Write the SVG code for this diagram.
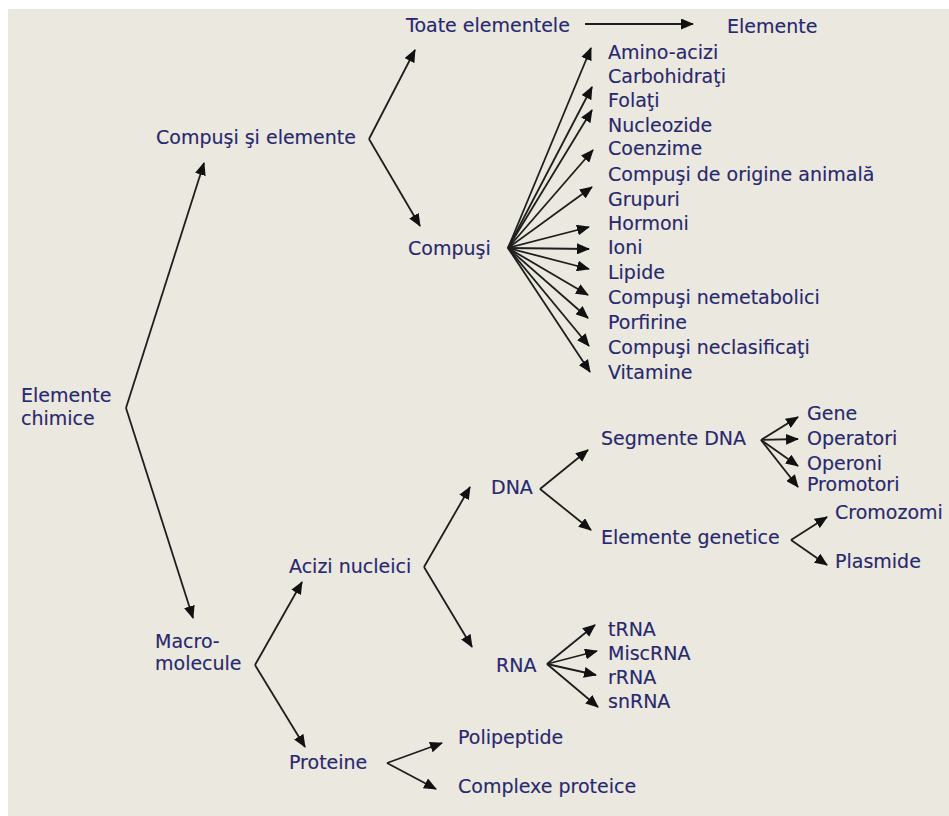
<svg xmlns="http://www.w3.org/2000/svg" width="949" height="816" viewBox="0 0 949 816">
  <style>
    .t { font-family: "DejaVu Sans", Verdana, sans-serif; font-size: 19px; fill: #28286e; stroke: #28286e; stroke-width: 0.15; }
    .c line { stroke: #1e1e1e; stroke-width: 1.8; marker-end: url(#ah); }
  </style>
  <defs>
    <marker id="ah" viewBox="0 0 13 11" refX="12" refY="5.5" markerWidth="13" markerHeight="11" markerUnits="userSpaceOnUse" orient="auto">
      <path d="M0,0 L13,5.5 L0,11 z" fill="#111"/>
    </marker>
  </defs>

  <rect x="0" y="0" width="949" height="816" fill="#ffffff"/>
  <rect x="8" y="9" width="941" height="807" fill="#ebe8df"/>

  <g class="c" id="connectors">
    <!-- root split -->
    <line x1="126" y1="408" x2="204" y2="163"/>
    <line x1="126" y1="408" x2="193" y2="618"/>
    <!-- compounds and elements -->
    <line x1="369" y1="139" x2="415" y2="50"/>
    <line x1="369" y1="139" x2="420" y2="226"/>
    <line x1="585" y1="24" x2="693" y2="24"/>
    <!-- compound classes fan -->
    <line x1="508" y1="248" x2="591" y2="48"/>
    <line x1="508" y1="248" x2="592" y2="87"/>
    <line x1="508" y1="248" x2="592" y2="110"/>
    <line x1="508" y1="248" x2="593" y2="150"/>
    <line x1="508" y1="248" x2="592" y2="187"/>
    <line x1="508" y1="248" x2="589" y2="227"/>
    <line x1="508" y1="248" x2="589" y2="249"/>
    <line x1="508" y1="248" x2="589" y2="269"/>
    <line x1="508" y1="248" x2="588" y2="295"/>
    <line x1="508" y1="248" x2="588" y2="318"/>
    <line x1="508" y1="248" x2="589" y2="346"/>
    <line x1="508" y1="248" x2="590" y2="372"/>
    <!-- macromolecules -->
    <line x1="255" y1="665" x2="302" y2="582"/>
    <line x1="255" y1="665" x2="305" y2="747"/>
    <!-- nucleic acids -->
    <line x1="424" y1="567" x2="470" y2="487"/>
    <line x1="424" y1="567" x2="472" y2="647"/>
    <!-- DNA -->
    <line x1="540" y1="489" x2="588" y2="450"/>
    <line x1="540" y1="489" x2="591" y2="530"/>
    <line x1="761" y1="440" x2="798" y2="417"/>
    <line x1="761" y1="440" x2="798" y2="439"/>
    <line x1="761" y1="440" x2="798" y2="466"/>
    <line x1="761" y1="440" x2="798" y2="487"/>
    <line x1="791" y1="540" x2="827" y2="517"/>
    <line x1="791" y1="540" x2="827" y2="565"/>
    <!-- RNA -->
    <line x1="547" y1="664" x2="595" y2="625"/>
    <line x1="547" y1="664" x2="597" y2="651"/>
    <line x1="547" y1="664" x2="596" y2="675"/>
    <line x1="547" y1="664" x2="598" y2="707"/>
    <!-- proteins -->
    <line x1="387" y1="763" x2="442" y2="743"/>
    <line x1="387" y1="763" x2="436" y2="789"/>
  </g>

  <g id="elemente-chimice"><text class="t" x="21" y="402">Elemente</text><text class="t" x="21" y="425">chimice</text></g>
  <g id="compusi-si-elemente"><text class="t" x="156" y="143.5">Compuşi şi elemente</text></g>
  <g id="toate-elementele"><text class="t" x="406" y="32">Toate elementele</text></g>
  <g id="elemente"><text class="t" x="727" y="33">Elemente</text></g>
  <g id="compusi"><text class="t" x="408" y="255">Compuşi</text></g>

  <g id="clase-compusi">
    <text class="t" x="608" y="59">Amino-acizi</text>
    <text class="t" x="608" y="83">Carbohidraţi</text>
    <text class="t" x="608" y="107">Folaţi</text>
    <text class="t" x="608" y="131.5">Nucleozide</text>
    <text class="t" x="608" y="155">Coenzime</text>
    <text class="t" x="608" y="181">Compuşi de origine animală</text>
    <text class="t" x="608" y="205.5">Grupuri</text>
    <text class="t" x="608" y="230">Hormoni</text>
    <text class="t" x="608" y="254">Ioni</text>
    <text class="t" x="608" y="279">Lipide</text>
    <text class="t" x="608" y="304">Compuşi nemetabolici</text>
    <text class="t" x="608" y="329">Porfirine</text>
    <text class="t" x="608" y="354">Compuşi neclasificaţi</text>
    <text class="t" x="608" y="379">Vitamine</text>
  </g>

  <g id="macromolecule"><text class="t" x="155" y="648">Macro-</text><text class="t" x="155" y="670">molecule</text></g>
  <g id="acizi-nucleici"><text class="t" x="289" y="573">Acizi nucleici</text></g>
  <g id="proteine"><text class="t" x="289" y="769">Proteine</text></g>
  <g id="dna"><text class="t" x="491" y="494">DNA</text></g>
  <g id="rna"><text class="t" x="496" y="671.5">RNA</text></g>
  <g id="segmente-dna"><text class="t" x="601" y="445">Segmente DNA</text></g>
  <g id="elemente-genetice"><text class="t" x="601" y="544">Elemente genetice</text></g>
  <g id="gene"><text class="t" x="807" y="420">Gene</text></g>
  <g id="operatori"><text class="t" x="807" y="445">Operatori</text></g>
  <g id="operoni"><text class="t" x="807" y="470">Operoni</text></g>
  <g id="promotori"><text class="t" x="807" y="491">Promotori</text></g>
  <g id="cromozomi"><text class="t" x="835" y="519">Cromozomi</text></g>
  <g id="plasmide"><text class="t" x="835" y="568">Plasmide</text></g>
  <g id="trna"><text class="t" x="608" y="636">tRNA</text></g>
  <g id="miscrna"><text class="t" x="608" y="659.5">MiscRNA</text></g>
  <g id="rrna"><text class="t" x="608" y="684">rRNA</text></g>
  <g id="snrna"><text class="t" x="608" y="708">snRNA</text></g>
  <g id="polipeptide"><text class="t" x="458" y="744">Polipeptide</text></g>
  <g id="complexe-proteice"><text class="t" x="458" y="793">Complexe proteice</text></g>
</svg>
